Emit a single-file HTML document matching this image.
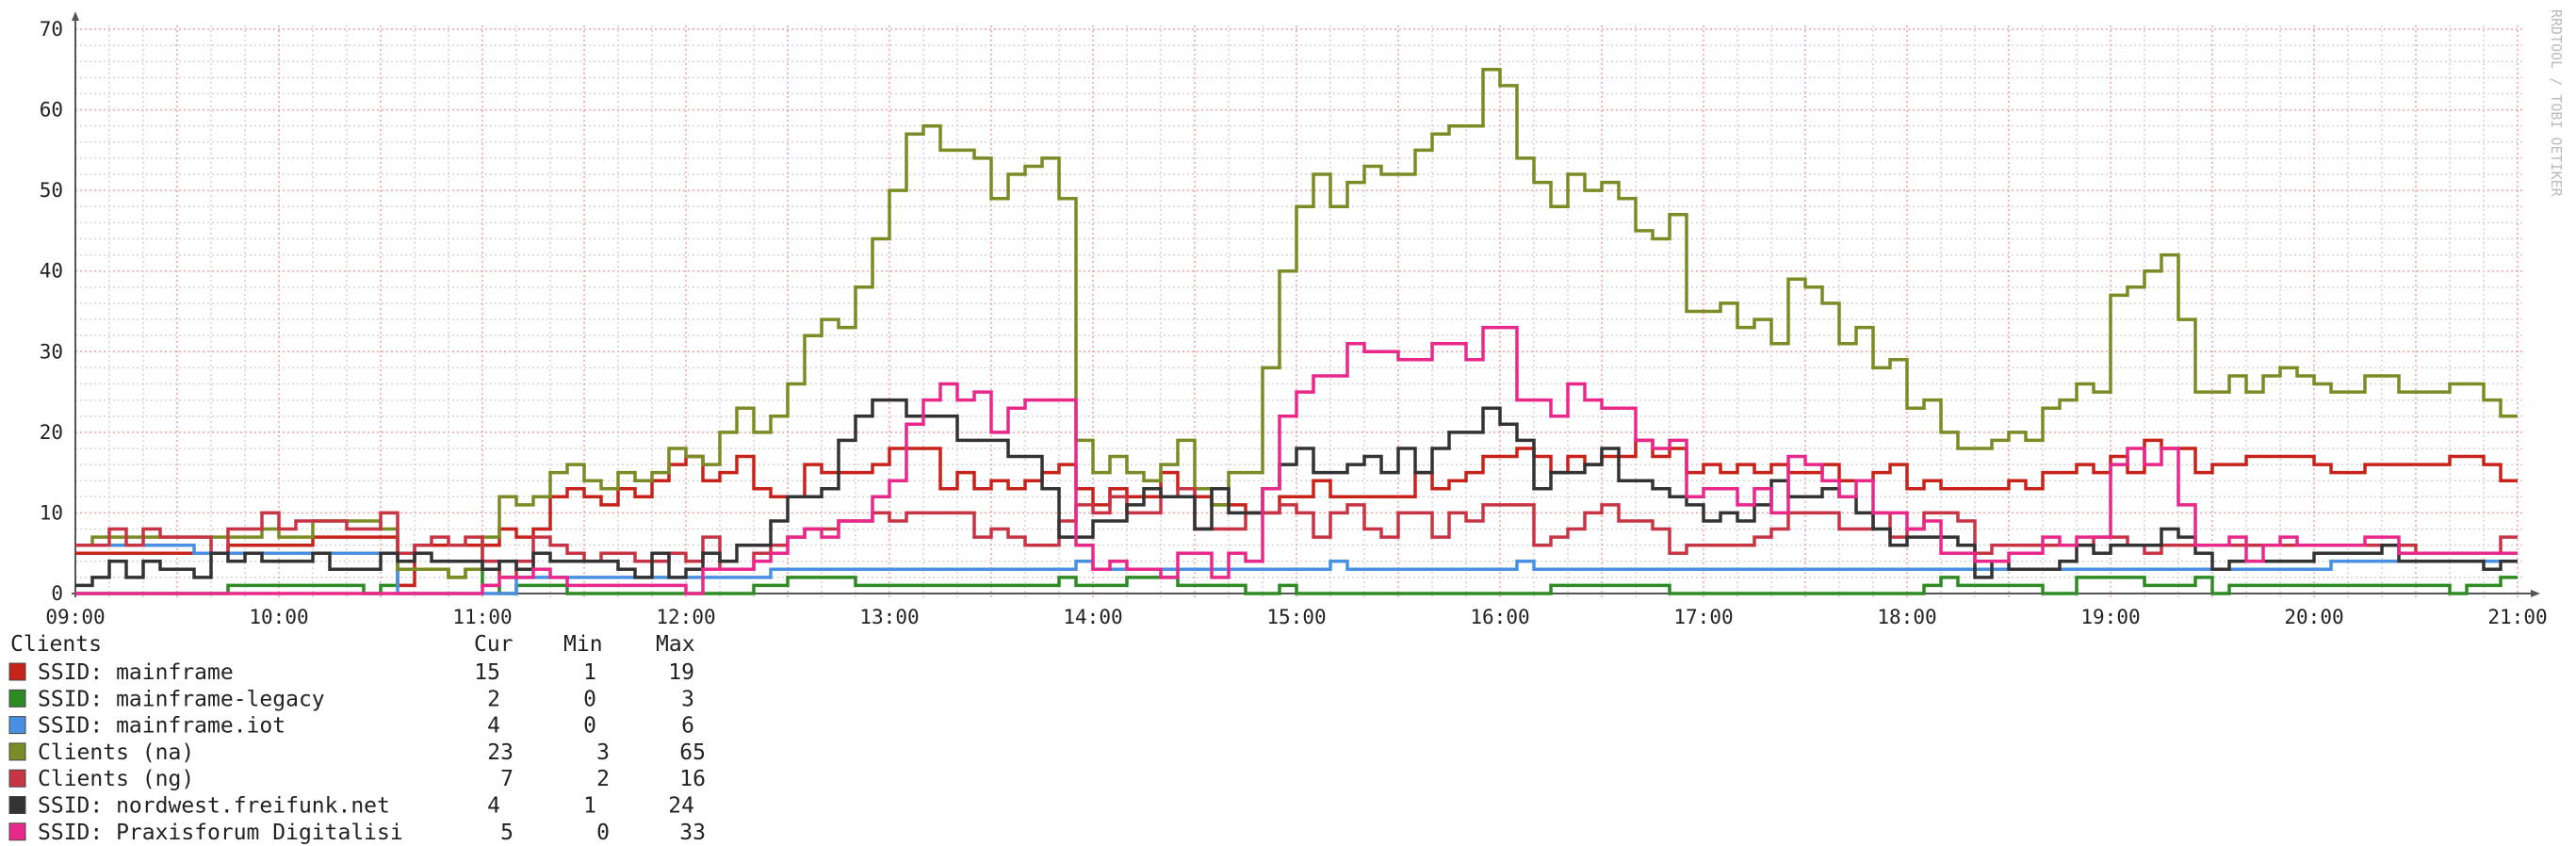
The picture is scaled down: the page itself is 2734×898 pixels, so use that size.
<!DOCTYPE html>
<html><head><meta charset="utf-8">
<style>
html,body{margin:0;padding:0;background:#fff;}
svg{display:block;}
text{font-family:"DejaVu Sans Mono","Liberation Mono",monospace;}
</style></head>
<body>
<svg id="chart" width="2734" height="898" viewBox="0 0 2734 898" xmlns="http://www.w3.org/2000/svg">
<g id="grid"></g>
<g id="axes"></g>
<g id="series"></g>
<text x="2708" y="10" fill="#bbb" font-size="15" transform="rotate(90 2708 10)">RRDTOOL / TOBI OETIKER</text>
<g id="legend"></g>
</svg>
<script>
const hourLabels = ["09:00","10:00","11:00","12:00","13:00","14:00","15:00","16:00","17:00","18:00","19:00","20:00","21:00"];
const yTicks = [0,10,20,30,40,50,60,70];
const stepMinutes = 5;
const seriesNames = ["SSID: mainframe","SSID: mainframe-legacy","SSID: mainframe.iot","Clients (na)","Clients (ng)","SSID: nordwest.freifunk.net","SSID: Praxisforum Digitalisi"];
const seriesColors = ["#c8231b","#2e8b23","#4a90e2","#7a8c25","#c73444","#333333","#e8288a"];
const curValues = ["15","2","4","23","7","4","5"];
const minValues = ["1","0","0","3","2","1","0"];
const maxValues = ["19","3","6","65","16","24","33"];

const mainframe = [5,5,5,5,5,5,5,5,5,6,6,6,6,6,7,7,7,7,7,1,6,6,6,6,6,8,7,8,
12,13,12,11,13,12,14,16,17,14,15,17,13,12,12,16,15,15,15,16,18,18,18,13,15,13,14,13,14,15,16,13,11,13,12,12,15,13,
12,11,11,10,10,12,12,14,12,12,12,12,12,15,13,14,15,17,17,18,17,15,17,16,17,17,19,17,18,15,16,15,16,15,16,15,15,16,14,14,15,
16,13,14,13,13,13,13,14,13,15,15,16,15,17,15,19,18,18,15,16,16,17,17,17,17,16,15,15,16,16,16,16,16,17,17,16,14];
const legacy = [0,0,0,0,0,0,0,0,0,1,1,1,1,1,1,1,1,0,1,3,3,3,2,3,1,0,1,1,1,0,0,0,0,0,0,0,0,0,0,0,1,1,2,2,2,2,
1,1,1,1,1,1,1,1,1,1,1,1,2,1,1,1,2,2,2,1,1,1,1,0,0,1,0,0,0,0,0,0,0,0,0,0,0,0,0,0,0,1,1,1,1,1,1,1,
0,0,0,0,0,0,0,0,0,0,0,0,0,0,0,1,2,1,1,1,1,1,0,0,2,2,2,2,1,1,1,2,0,1,1,1,1,1,1,1,1,1,1,1,1,1,0,1,1,2];
const iot = [6,6,6,6,6,6,6,5,5,5,5,5,5,5,5,5,5,5,5,0,0,0,0,0,0,0,2,2,2,2,2,2,2,2,2,2,2,2,2,2,2,
3,3,3,3,3,3,3,3,3,3,3,3,3,3,3,3,3,3,4,3,3,3,3,3,3,3,3,3,3,3,3,3,3,4,3,3,3,3,3,3,3,3,3,3,4,
3,3,3,3,3,3,3,3,3,3,3,3,3,3,3,3,3,3,3,3,3,3,3,3,3,3,3,3,3,3,3,3,3,3,3,3,3,3,3,3,3,3,3,3,3,3,3,
4,4,4,4,4,4,4,4,4,4,4];
const clientsNa = [6,7,7,7,7,7,7,7,7,7,7,8,7,7,9,9,9,9,8,3,3,3,2,3,7,12,11,12,
15,16,14,13,15,14,15,18,17,16,20,23,20,22,26,32,34,33,38,44,50,57,58,55,55,54,49,52,53,54,49,
19,15,17,15,14,16,19,13,11,15,15,
28,40,48,52,48,51,53,52,52,55,57,58,58,65,63,54,51,48,52,50,51,49,45,44,47,
35,35,36,33,34,31,39,38,36,31,33,28,
29,23,24,20,18,18,19,20,19,23,24,26,25,37,38,40,42,34,25,25,27,25,27,28,27,26,25,25,27,27,25,25,25,26,26,24,22];
const clientsNg = [6,6,8,6,8,7,7,7,5,8,8,10,8,9,9,9,8,8,10,5,6,7,6,7,4,2,4,7,
6,5,4,5,5,4,4,5,4,7,3,3,5,6,7,8,8,9,9,10,9,10,10,10,10,7,8,7,6,6,9,11,10,12,10,10,12,13,
8,8,8,10,10,11,10,7,10,11,8,7,10,10,7,10,9,11,11,11,6,7,8,10,11,9,9,8,5,6,6,6,6,7,8,10,10,10,8,8,10,
7,8,10,10,9,5,6,6,6,6,6,6,7,7,6,5,6,6,6,6,6,6,6,6,6,6,6,6,6,6,6,5,5,5,5,5,7];
const nordwest = [1,2,4,2,4,3,3,2,5,4,5,4,4,4,5,3,3,3,5,4,5,4,4,4,3,4,3,5,
4,4,4,4,3,2,5,2,3,5,4,6,6,9,12,12,13,19,22,24,24,22,22,22,19,19,19,17,17,13,7,7,9,9,11,13,12,
12,8,13,10,10,13,16,18,15,15,16,17,15,18,15,18,20,20,23,21,19,13,15,15,16,18,14,14,13,12,11,9,10,9,11,14,12,12,13,12,10,8,
6,7,7,7,6,2,4,3,3,3,4,6,5,6,6,6,8,7,5,3,4,4,4,4,4,5,5,5,5,6,4,4,4,4,4,3,4];
const praxis = [0,0,0,0,0,0,0,0,0,0,0,0,0,0,0,0,0,0,0,0,0,0,0,0,1,2,2,3,2,1,1,1,1,1,1,1,0,3,3,3,4,5,7,8,7,9,9,12,14,21,24,26,24,25,20,23,24,24,24,6,3,4,3,3,2,5,
5,2,5,4,13,22,25,27,27,31,30,30,29,29,31,31,29,33,33,24,24,22,26,24,23,23,19,18,19,12,13,13,11,13,10,17,16,14,12,14,10,
10,8,9,5,5,4,4,5,5,7,6,7,7,16,18,16,18,11,6,6,7,4,6,7,6,6,6,6,7,7,5,5,5,5,5,5,5];
const seriesData = [mainframe, legacy, iot, clientsNa, clientsNg, nordwest, praxis];

const NS = "http://www.w3.org/2000/svg";
const X0 = 80, X1 = 2672, Y0 = 630, Y1 = 31;
const totalMinutes = (hourLabels.length - 1) * 60;
const yMax = yTicks[yTicks.length - 1];
function xScale(min){ return X0 + min / totalMinutes * (X1 - X0); }
function yScale(v){ return Y0 - v / yMax * (Y0 - Y1); }
function mk(tag, attrs, parent){ const e = document.createElementNS(NS, tag); for (const k in attrs) e.setAttribute(k, attrs[k]); parent.appendChild(e); return e; }

const grid = document.getElementById('grid');
for (let v = 0; v <= yMax; v += 2) {
  const major = v % 10 === 0;
  const l = mk('line', {x1: X0, x2: 2677, y1: yScale(v), y2: yScale(v), stroke: major ? '#f2a0a0' : '#d4d4d4', 'stroke-width': 1.5, 'stroke-dasharray': '2,3'}, grid);
  
  
}
for (let m = 10; m <= totalMinutes; m += 10) {
  const major = m % 30 === 0;
  const l = mk('line', {x1: xScale(m), x2: xScale(m), y1: Y1 - 4, y2: Y0 + 4, stroke: major ? '#f2a0a0' : '#d4d4d4', 'stroke-width': 1.5, 'stroke-dasharray': '2,3'}, grid);
  
  
}

const axes = document.getElementById('axes');
yTicks.forEach(v => {
  const t = mk('text', {x: 67, y: yScale(v) + 7, 'text-anchor': 'end', 'font-size': 21, fill: '#222'}, axes);
  t.textContent = v;
  
  
});
hourLabels.forEach((lab, i) => {
  const t = mk('text', {x: xScale(i * 60), y: 662, 'text-anchor': 'middle', 'font-size': 21, fill: '#222'}, axes);
  t.textContent = lab;
  
  
});

const series = document.getElementById('series');
seriesData.forEach((arr, si) => {
  let d = '';
  arr.forEach((v, k) => {
    const xa = xScale(k * stepMinutes), xb = xScale((k + 1) * stepMinutes), y = yScale(v);
    d += (k === 0 ? 'M' : 'L') + xa.toFixed(1) + ',' + y.toFixed(1) + 'L' + xb.toFixed(1) + ',' + y.toFixed(1);
  });
  const p = mk('path', {d: d, fill: 'none', stroke: seriesColors[si], 'stroke-width': 3.5, 'stroke-linejoin': 'miter'}, series);
  
  
});

const ax1 = mk('line', {x1: X0, x2: X0, y1: Y0 + 4, y2: 20, stroke: '#555', 'stroke-width': 2}, axes);
 
const ax2 = mk('line', {x1: X0 - 4, x2: 2688, y1: Y0, y2: Y0, stroke: '#555', 'stroke-width': 2}, axes);
 
const ar1 = mk('path', {d: 'M76,22 L80,12 L84,22 Z', fill: '#555'}, axes);
 
const ar2 = mk('path', {d: 'M2686,626 L2696,630 L2686,634 Z', fill: '#555'}, axes);
 

const legend = document.getElementById('legend');
function txt(s, x, y, anchor, name){
  const t = mk('text', {x: x, y: y, 'text-anchor': anchor, 'font-size': 23, fill: '#222'}, legend);
  t.textContent = s;
  
  
}
txt('Clients', 11, 691, 'start', 'legend-title');
txt('Cur', 503, 691, 'start', 'legend-cur-header');
txt('Min', 598, 691, 'start', 'legend-min-header');
txt('Max', 696, 691, 'start', 'legend-max-header');
const curRight = [531,531,531,545,545,531,545];
const minRight = [633,633,633,647,647,633,647];
const maxRight = [737,737,737,749,749,737,749];
seriesNames.forEach((n, i) => {
  const cy = 713 + i * 28.3;
  const r = mk('rect', {x: 10, y: cy - 9, width: 17, height: 18, fill: seriesColors[i], stroke: '#444', 'stroke-width': 1}, legend);
  
  
  txt(n, 40, cy + 8, 'start', 'legend-label');
  txt(curValues[i], curRight[i], cy + 8, 'end', 'legend-cur-value');
  txt(minValues[i], minRight[i], cy + 8, 'end', 'legend-min-value');
  txt(maxValues[i], maxRight[i], cy + 8, 'end', 'legend-max-value');
});
</script>
</body></html>
